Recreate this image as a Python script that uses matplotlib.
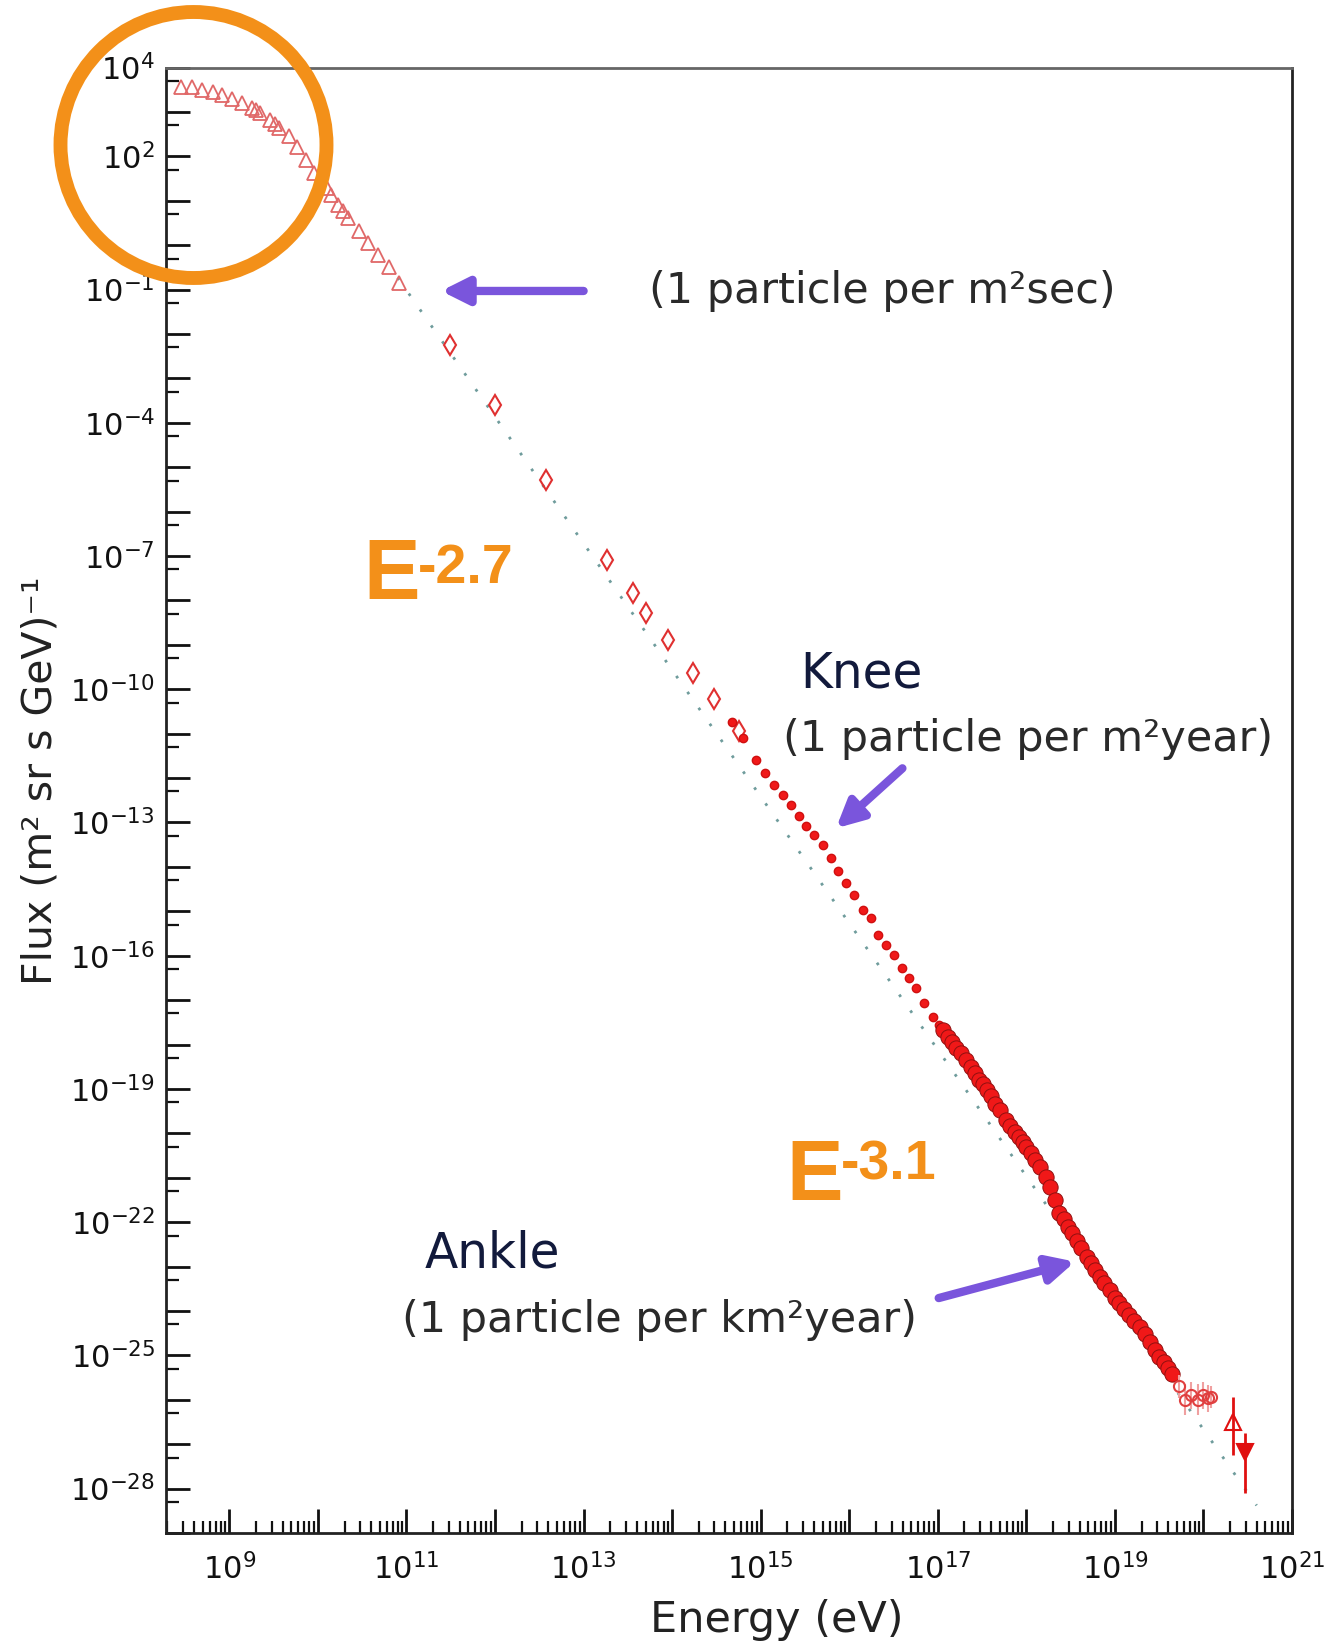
import numpy as np
import matplotlib
matplotlib.use("Agg")
import matplotlib.pyplot as plt
from matplotlib.patches import Ellipse

# values, as log10(energy / eV) and log10(flux)
tri_loge = [8.45, 8.58, 8.69, 8.81, 8.92, 9.03, 9.14, 9.26, 9.30, 9.35, 9.46, 9.52, 9.56, 9.67,
            9.76, 9.86, 9.95, 10.10, 10.15, 10.23, 10.28, 10.34, 10.46, 10.57, 10.68, 10.80, 10.92]
tri_logf = [3.57, 3.56, 3.50, 3.44, 3.39, 3.29, 3.20, 3.09, 3.05, 2.98, 2.83, 2.74, 2.64, 2.45,
            2.22, 1.92, 1.62, 1.29, 1.12, 0.91, 0.76, 0.61, 0.31, 0.05, -0.22, -0.48, -0.86]

dia_loge = [11.49, 12.00, 12.58, 13.26, 13.56, 13.71, 13.95, 14.23, 14.47, 14.75]
dia_logf = [-2.24, -3.59, -5.28, -7.08, -7.83, -8.28, -8.89, -9.64, -10.22, -10.95]

dot_loge = [14.68, 14.80, 14.95, 15.05, 15.15, 15.25, 15.34, 15.43, 15.51, 15.60, 15.70, 15.79,
            15.87, 15.96, 16.05, 16.15, 16.24, 16.33, 16.41, 16.50, 16.60, 16.67, 16.75, 16.84,
            16.94, 17.01]
dot_logf = [-10.73, -11.10, -11.59, -11.88, -12.15, -12.38, -12.60, -12.86, -13.09, -13.28, -13.50, -13.80,
            -14.10, -14.36, -14.63, -14.97, -15.15, -15.53, -15.76, -15.98, -16.28, -16.51, -16.73, -17.07,
            -17.37, -17.55]

band_loge = [17.06, 17.11, 17.16, 17.21, 17.26, 17.32, 17.37, 17.42, 17.47, 17.51, 17.55, 17.60,
             17.65, 17.70, 17.77, 17.82, 17.87, 17.92, 17.96, 18.00, 18.05, 18.10, 18.15, 18.22,
             18.27, 18.32, 18.37, 18.42, 18.47, 18.52, 18.57, 18.62, 18.68, 18.73, 18.78, 18.83,
             18.88, 18.94, 19.00, 19.05, 19.10, 19.16, 19.22, 19.28, 19.34, 19.40, 19.45, 19.50,
             19.55, 19.60, 19.65]
band_logf = [-17.67, -17.82, -17.95, -18.08, -18.20, -18.35, -18.50, -18.64, -18.79, -18.90, -19.02, -19.17,
             -19.33, -19.48, -19.70, -19.83, -19.97, -20.09, -20.19, -20.30, -20.45, -20.60, -20.76, -20.98,
             -21.20, -21.50, -21.80, -21.94, -22.10, -22.25, -22.42, -22.58, -22.78, -22.93, -23.08, -23.23,
             -23.37, -23.53, -23.70, -23.83, -23.95, -24.09, -24.22, -24.36, -24.52, -24.70, -24.87, -25.03,
             -25.15, -25.28, -25.41]

tail_loge = [19.72, 19.79, 19.86, 19.94, 20.00, 20.05, 20.09]
tail_logf = [-25.70, -26.00, -25.90, -26.00, -25.90, -25.97, -25.93]
tail_err = [0.25, 0.35, 0.3, 0.35, 0.3, 0.3, 0.25]

hi_open = (20.33, -26.49, 0.56, 0.75)   # loge, logf, err up, err down
hi_fill = (20.47, -27.17, 0.42, 0.93)

ref_loge = [10.9, 20.6]
ref_logf = [-0.73, -28.38]

ytick_exp = [4, 2, -1, -4, -7, -10, -13, -16, -19, -22, -25, -28]
xtick_exp = [9, 11, 13, 15, 17, 19, 21]

orange = "#f39019"
purple = "#7a55dc"


def p(v):
    return 10.0 ** np.asarray(v, dtype=float)


fig = plt.figure(figsize=(13.36, 16.45), dpi=100)
ax = fig.add_axes([0.1243, 0.0681, 0.8428, 0.8908])
ax.set_xscale("log")
ax.set_yscale("log")

ax.plot(p(ref_loge), p(ref_logf), color="#6f9c9c", lw=2, linestyle=(0, (1, 6)), zorder=1)
ax.plot(p(tri_loge), p(tri_logf), "^", ms=10, mfc="none", mec="#e06868", mew=1.3, zorder=3)
ax.plot(p(dia_loge), p(dia_logf), "d", ms=10, mfc="none", mec="#e03030", mew=1.5, zorder=3)
ax.plot(p(dot_loge), p(dot_logf), "o", ms=6, color="#f01818", mec="#d01010", zorder=3)
ax.plot(p(band_loge), p(band_logf), "o", ms=11, color="#f01818", mec="#901010", mew=0.7, zorder=3)
tf = np.array(tail_logf)
te = np.array(tail_err)
ax.errorbar(p(tail_loge), p(tf), yerr=[p(tf) - p(tf - te), p(tf + te) - p(tf)],
            fmt="o", ms=8, mfc="none", mec="#e04040", mew=1.5, ecolor="#f0a0a0", elinewidth=1.5, zorder=3)
for (le, lf, up, dn), mk, fc in [(hi_open, "^", "none"), (hi_fill, "v", "#e01010")]:
    ax.errorbar([p(le)], [p(lf)], yerr=[[p(lf) - p(lf - dn)], [p(lf + up) - p(lf)]],
                fmt=mk, ms=11, mfc=fc, mec="#e01010", mew=1.5, ecolor="#e01010", elinewidth=2, zorder=3)

# ticks
ax.set_yticks(p(np.arange(-29, 5)))
ax.set_yticklabels([r"$10^{%d}$" % e if e in ytick_exp else "" for e in range(-29, 5)])
ax.yaxis.set_minor_locator(matplotlib.ticker.FixedLocator(5 * p(np.arange(-30, 4))))
ax.yaxis.set_minor_formatter(matplotlib.ticker.NullFormatter())
ax.set_xticks(p(np.arange(8, 22)))
ax.set_xticklabels([r"$10^{%d}$" % e if e in xtick_exp else "" for e in range(8, 22)])
ax.xaxis.set_minor_locator(matplotlib.ticker.LogLocator(subs=np.arange(2, 10), numticks=200))
ax.xaxis.set_minor_formatter(matplotlib.ticker.NullFormatter())
ax.set_xlim(p(8.285), p(21))
ax.set_ylim(p(-29), p(4))
ax.tick_params(which="major", direction="in", length=17, width=2, labelsize=22, colors="#111")
ax.tick_params(which="minor", direction="in", length=9, width=1.6, colors="#111")
ax.tick_params(axis="y", which="major", pad=8)
ax.tick_params(axis="x", which="major", pad=14)
for s in ax.spines.values():
    s.set_linewidth(2)
    s.set_color("#222")
ax.spines["top"].set_color("#666")

ax.set_xlabel("Energy (eV)", fontsize=31, color="#222")
ax.xaxis.set_label_coords(0.5426, -0.045)
ax.set_ylabel("Flux (m² sr s GeV)⁻¹", fontsize=29.5, color="#222")
ax.yaxis.set_label_coords(-0.094, 0.513)

# annotations
txt = dict(fontsize=31, color="#2a2a2a")
ax.text(p(13.74), p(-1.03), "(1 particle per m²sec)", va="center", **txt)
ax.text(p(15.45), p(-9.95), "Knee", va="baseline", fontsize=35, color="#121a3c")
ax.text(p(15.25), p(-11.12), "(1 particle per m²year)", va="center", **txt)
ax.text(p(11.21), p(-23.03), "Ankle", va="baseline", fontsize=35, color="#121a3c")
ax.text(p(10.95), p(-24.21), "(1 particle per km²year)", va="center", **txt)

big = dict(color=orange, fontweight="bold", family="Liberation Sans")
ax.text(p(10.51), p(-7.97), "E", fontsize=61, va="baseline", **big)
ax.text(p(11.13), p(-6.70), "-2.7", fontsize=40, va="top", **big)
ax.text(p(15.29), p(-21.50), "E", fontsize=61, va="baseline", **big)
ax.text(p(15.91), p(-20.15), "-3.1", fontsize=40, va="top", **big)

arrow = dict(arrowstyle="-|>,head_length=0.8,head_width=0.4", color=purple, lw=6,
             mutation_scale=20, shrinkA=0, shrinkB=0)
ax.annotate("", xy=(p(11.39), p(-1.03)), xytext=(p(13.0), p(-1.03)), arrowprops=arrow)
ax.annotate("", xy=(p(15.85), p(-13.13)), xytext=(p(16.60), p(-11.78)), arrowprops=arrow)
ax.annotate("", xy=(p(18.55), p(-22.89)), xytext=(p(17.01), p(-23.71)), arrowprops=arrow)

ring = Ellipse((193.5 / 1336, 1 - 145 / 1645), 266 / 1336, 266 / 1645, transform=fig.transFigure,
               fill=False, edgecolor=orange, lw=10, zorder=10)
fig.add_artist(ring)

fig.savefig("out.png", dpi=100)
